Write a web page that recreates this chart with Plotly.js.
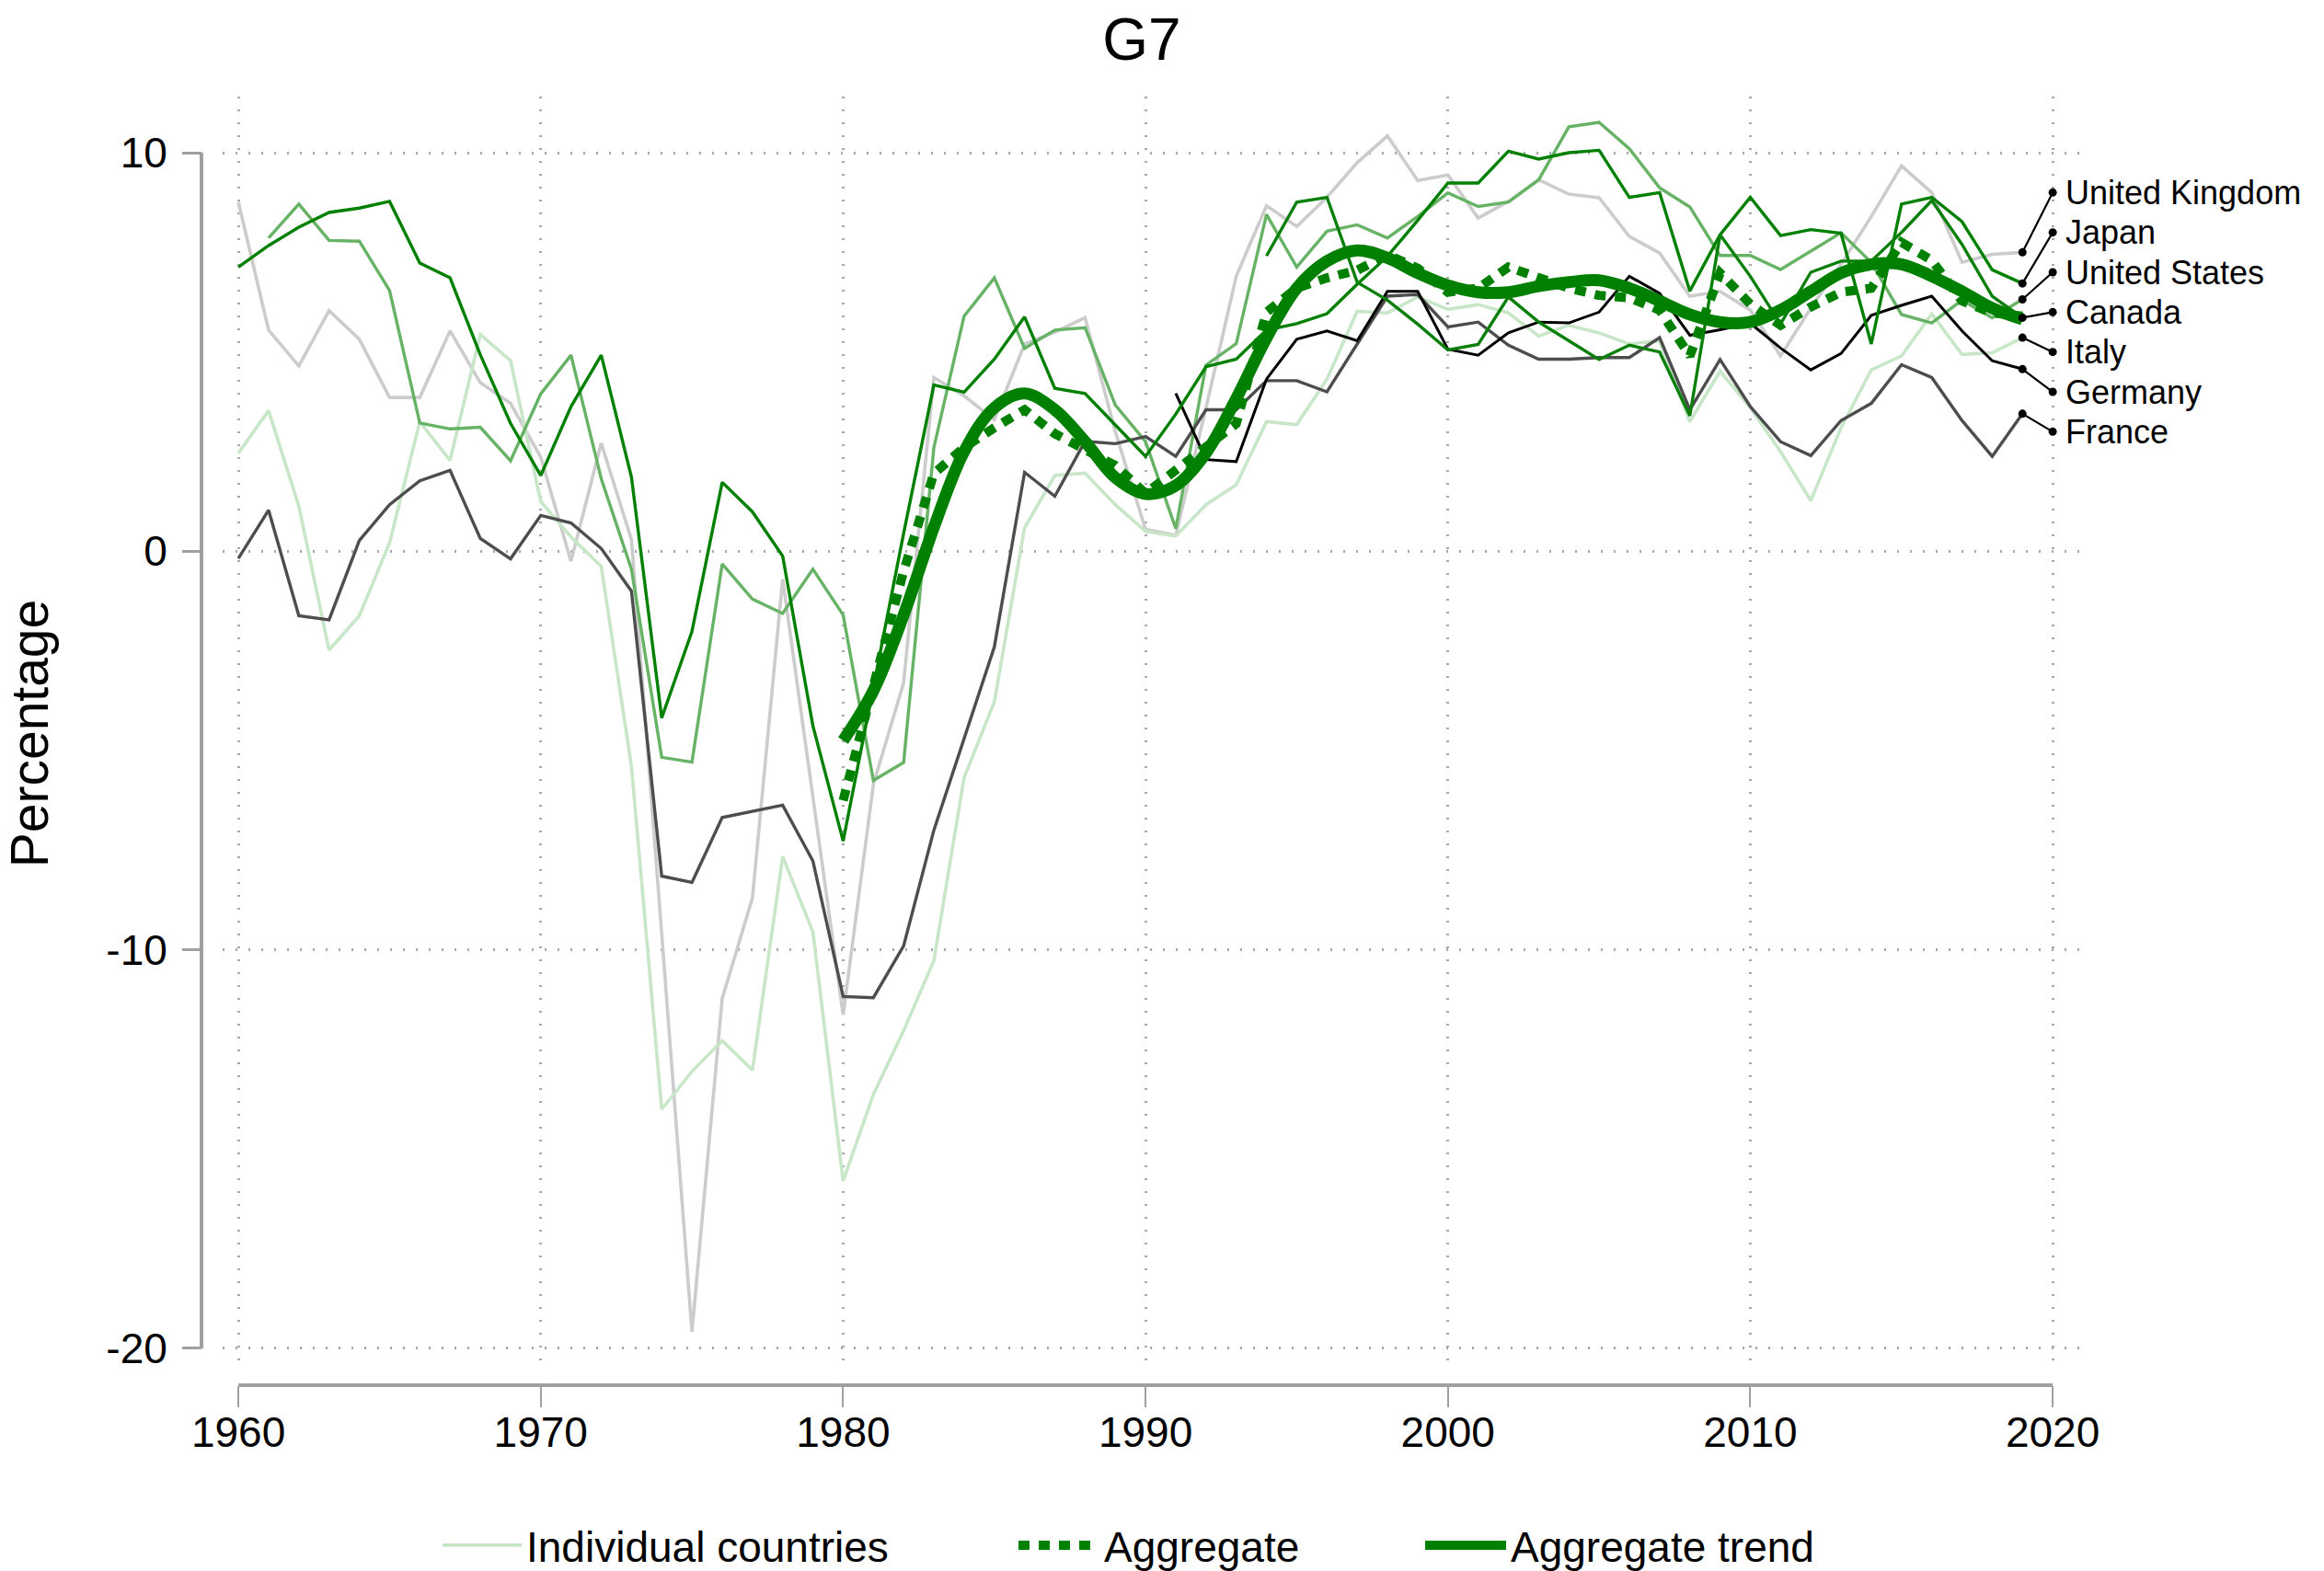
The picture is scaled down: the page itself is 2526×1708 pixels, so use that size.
<!DOCTYPE html>
<html><head><meta charset="utf-8">
<script src="https://cdn.plot.ly/plotly-3.0.1.min.js"></script>
<style>html,body{margin:0;padding:0;background:#fff;}#chart{width:2526px;height:1708px;}</style>
</head><body><div id="chart"></div>
<script>
const years = [1960,1961,1962,1963,1964,1965,1966,1967,1968,1969,
1970,1971,1972,1973,1974,1975,1976,1977,1978,1979,
1980,1981,1982,1983,1984,1985,1986,1987,1988,1989,
1990,1991,1992,1993,1994,1995,1996,1997,1998,1999,
2000,2001,2002,2003,2004,2005,2006,2007,2008,2009,
2010,2011,2012,2013,2014,2015,2016,2017,2018,2019];

const unitedKingdom = [8.76,5.55,4.65,6.04,5.32,3.86,3.86,5.53,4.23,3.71,
2.36,-0.25,2.71,0.29,-9.6,-19.58,-11.22,-8.7,-0.7,-6.1,
-11.63,-5.85,-3.3,4.36,3.9,3.3,5.2,5.5,5.86,3.0,
0.55,0.4,3.6,6.9,8.67,8.15,8.88,9.75,10.42,9.3,
9.44,8.36,8.78,9.32,8.96,8.87,7.9,7.48,6.4,6.52,
6.05,4.9,6.1,7.2,8.4,9.67,9.0,7.25,7.45,7.5];

const japan = [7.13,7.67,8.13,8.5,8.61,8.78,7.23,6.86,4.93,3.21,
1.9,3.63,4.92,1.86,-4.18,-2.01,1.73,0.99,-0.12,-4.38,
-7.27,-3.4,0.45,4.17,3.99,4.82,5.88,4.09,3.96,3.17,
2.38,3.44,4.63,4.82,5.55,5.71,5.96,6.7,7.4,8.3,
9.24,9.24,10.04,9.84,10.0,10.06,8.88,9.0,6.53,7.94,
8.88,7.92,8.07,7.98,5.2,8.71,8.88,8.27,7.06,6.72];

const unitedStates = [null,7.86,8.71,7.8,7.78,6.54,3.22,3.07,3.11,2.27,
3.95,4.92,1.82,-0.45,-5.17,-5.29,-0.32,-1.2,-1.56,-0.45,
-1.6,-5.75,-5.3,2.6,5.9,6.86,5.09,5.55,5.61,3.67,
2.75,0.57,4.67,5.21,8.45,7.13,8.03,8.19,7.86,8.4,
8.99,8.65,8.76,9.32,10.65,10.76,10.1,9.12,8.64,7.42,
7.42,7.07,7.52,7.99,7.25,5.94,5.73,6.3,5.86,6.32];

const canada = [null,null,null,null,null,null,null,null,null,null,
null,null,null,null,null,null,null,null,null,null,
null,null,null,null,null,null,null,null,null,null,
null,null,null,null,7.41,8.76,8.88,6.75,6.3,5.7,
5.05,5.19,6.38,5.75,5.28,4.81,5.17,5.0,3.4,7.94,
6.9,5.7,7.0,7.28,7.28,8.0,8.8,7.7,6.4,5.86];

const italy = [2.46,3.53,1.13,-2.48,-1.62,0.21,3.25,2.28,5.44,4.78,
1.25,0.36,-0.38,-5.4,-14.0,-13.05,-12.28,-13.02,-7.66,-9.55,
-15.8,-13.63,-12.03,-10.27,-5.68,-3.78,0.59,1.9,1.96,1.17,
0.5,0.38,1.17,1.67,3.25,3.18,4.32,6.02,5.98,6.38,
6.07,6.19,5.98,5.4,5.67,5.48,5.2,5.28,3.25,4.52,
3.6,2.5,1.27,3.1,4.55,4.9,5.96,4.94,4.98,5.36];

const germany = [null,null,null,null,null,null,null,null,null,null,
null,null,null,null,null,null,null,null,null,null,
null,null,null,null,null,null,null,null,null,null,
null,3.96,2.3,2.25,4.32,5.32,5.53,5.28,6.52,6.52,
5.07,4.92,5.48,5.75,5.73,6.0,6.9,6.47,5.42,5.56,
5.72,5.1,4.55,4.96,5.92,6.17,6.4,5.53,4.78,4.57];

const france = [-0.18,1.03,-1.62,-1.72,0.27,1.17,1.77,2.03,0.32,-0.19,
0.9,0.71,0.07,-1.0,-8.15,-8.31,-6.68,-6.52,-6.37,-7.77,
-11.17,-11.2,-9.9,-7.0,-4.7,-2.4,1.98,1.38,2.76,2.7,
2.88,2.38,3.55,3.55,4.28,4.28,4.0,5.2,6.4,6.44,
5.63,5.75,5.17,4.82,4.82,4.86,4.86,5.36,3.55,4.81,
3.63,2.75,2.4,3.28,3.71,4.68,4.36,3.28,2.38,3.45];

const aggregate = [null,null,null,null,null,null,null,null,null,null,
null,null,null,null,null,null,null,null,null,null,
-6.25,-3.3,-0.5,1.95,2.6,3.1,3.55,2.95,2.55,2.15,
1.45,2.05,2.6,3.2,6.0,6.6,6.86,7.05,7.44,7.1,
6.5,6.6,7.13,6.86,6.6,6.42,6.36,6.05,4.9,6.98,
6.2,5.67,6.13,6.5,6.6,7.75,7.3,6.28,5.98,5.9];

const aggregateTrend = [null,null,null,null,null,null,null,null,null,null,
null,null,null,null,null,null,null,null,null,null,
-4.75,-3.5,-1.6,0.6,2.5,3.6,3.96,3.55,2.75,1.85,
1.44,1.65,2.47,3.83,5.35,6.6,7.28,7.55,7.36,6.98,
6.67,6.5,6.5,6.65,6.75,6.8,6.6,6.28,5.94,5.75,
5.75,6.05,6.52,6.98,7.2,7.2,6.9,6.52,6.1,5.82];

const xTickVals = [1960,1970,1980,1990,2000,2010,2020];
const xTickText = ['1960','1970','1980','1990','2000','2010','2020'];
const yTickVals = [-20,-10,0,10];
const yTickText = ['-20','-10','0','10'];

const labelNames = ['United Kingdom','Japan','United States','Canada','Italy','Germany','France'];
const labelPositions = [9,8,7,6,5,4,3];
const labelYear = 2020;

const countries = [
  {name:'United Kingdom', y: unitedKingdom, color:'#cccccc', w:3.6},
  {name:'Italy', y: italy, color:'#c8e6c8', w:3.6},
  {name:'United States', y: unitedStates, color:'#66b366', w:3.4},
  {name:'France', y: france, color:'#4d4d4d', w:3.4},
  {name:'Germany', y: germany, color:'#000000', w:3.0},
  {name:'Japan', y: japan, color:'#008000', w:3.4},
  {name:'Canada', y: canada, color:'#0a800a', w:3.4}
];

const FONT = 'Liberation Sans, Arial, Helvetica, sans-serif';
const traces = [];

countries.forEach(c => {
  traces.push({
    type:'scatter', mode:'lines', x: years, y: c.y,
    name: c.name === 'Italy' ? 'Individual countries' : c.name,
    legend:'legend', showlegend: c.name === 'Italy',
    line:{color:c.color, width:c.w}, connectgaps:false, hoverinfo:'x+y+text', text:c.name
  });
});

traces.push({
  type:'scatter', mode:'lines', x: years, y: aggregate, name:'Aggregate', legend:'legend2',
  line:{color:'#008000', width:10, dash:'12px,10px'}
});
traces.push({
  type:'scatter', mode:'lines', x: years, y: aggregateTrend, name:'Aggregate trend', legend:'legend3',
  line:{color:'#008000', width:13, shape:'spline', smoothing:1}
});

labelNames.forEach((nm, i) => {
  const c = countries.find(d => d.name === nm);
  const lastIdx = c.y.length - 1;
  traces.push({
    type:'scatter', mode:'lines+markers', showlegend:false, hoverinfo:'skip',
    x:[years[lastIdx], labelYear], y:[c.y[lastIdx], labelPositions[i]],
    line:{color:'#000', width:2.2}, marker:{color:'#000', size:9}
  });
});

const annotations = labelNames.map((nm, i) => ({
  x: labelYear, y: labelPositions[i], xref:'x', yref:'y', text: nm, showarrow:false,
  xanchor:'left', yanchor:'middle', xshift: 12, font:{family:FONT, size:36, color:'#000'}
}));

const axisColor = '#a0a0a0';
const shapes = [
  {type:'line', xref:'paper', yref:'y', x0:0, x1:0,
   y0: Math.min(...yTickVals), y1: Math.max(...yTickVals), line:{color:axisColor, width:4}},
  {type:'line', xref:'x', yref:'paper', y0:0, y1:0,
   x0: Math.min(...xTickVals), x1: Math.max(...xTickVals), line:{color:axisColor, width:4}}
];

const gridCommon = {showgrid:true, gridcolor:'#a8a8a8', gridwidth:3, griddash:'2px,12px', zeroline:false, showline:false};

function legendAt(px, w) {
  return {orientation:'h', xref:'container', x: px/2526, xanchor:'left',
          yref:'container', y: 1 - 1680/1708, yanchor:'middle',
          font:{family:FONT, size:46, color:'#000'}, itemwidth:w,
          bgcolor:'rgba(0,0,0,0)', borderwidth:0};
}

const layout = {
  width:2526, height:1708,
  paper_bgcolor:'#ffffff', plot_bgcolor:'#ffffff',
  margin:{l:219, r:263, t:105, b:202, pad:0},
  font:{family:FONT, color:'#000'},
  showlegend:true,
  title:{text:'G7', font:{family:FONT, size:64, color:'#000'}, x:0.5, xref:'paper', xanchor:'center',
         y:1-43/1708, yref:'container', yanchor:'middle'},
  xaxis:Object.assign({
    range:[1959.48, 2020.97], domain:[23/2044, 1], anchor:'free', position:0,
    tickmode:'array', tickvals:xTickVals, ticktext:xTickText,
    ticks:'outside', ticklen:23, tickwidth:2, tickcolor:axisColor, ticklabelstandoff:-12,
    tickfont:{family:FONT, size:46, color:'#000'}
  }, gridCommon),
  yaxis:Object.assign({
    range:[-20.554, 11.408], domain:[16/1401, 1], anchor:'free', position:0,
    tickmode:'array', tickvals:yTickVals, ticktext:yTickText,
    ticks:'outside', ticklen:21, tickwidth:3, tickcolor:axisColor, ticklabelstandoff:7,
    tickfont:{family:FONT, size:46, color:'#000'},
    title:{text:'Percentage', font:{family:FONT, size:57, color:'#000'}, standoff:50}
  }, gridCommon),
  legend: legendAt(476, 86),
  legend2: legendAt(1102, 88),
  legend3: legendAt(1544, 88),
  shapes:shapes,
  annotations:annotations
};

Plotly.newPlot('chart', traces, layout, {staticPlot:true, displayModeBar:false});
</script></body></html>
